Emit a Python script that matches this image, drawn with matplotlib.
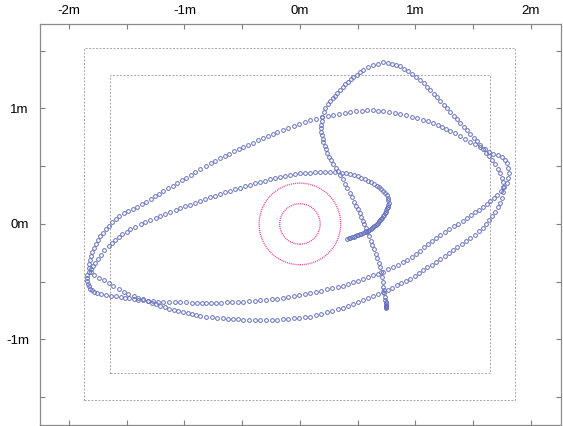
import matplotlib
matplotlib.use("Agg")
import matplotlib.pyplot as plt
from matplotlib.patches import Circle, Rectangle
from matplotlib.ticker import MultipleLocator, FuncFormatter

# robot track (m), in driving order
hook = [
    (0.410, -0.130), (0.424, -0.125), (0.437, -0.120), (0.451, -0.115), (0.465, -0.110), (0.478, -0.105), (0.492, -0.100),
    (0.506, -0.095), (0.520, -0.089), (0.533, -0.083), (0.547, -0.077), (0.560, -0.070), (0.574, -0.064), (0.587, -0.058),
    (0.601, -0.052), (0.612, -0.043), (0.623, -0.035), (0.634, -0.026), (0.645, -0.017), (0.656, -0.009), (0.668, 0.000),
    (0.679, 0.009), (0.688, 0.021), (0.696, 0.032), (0.705, 0.044), (0.714, 0.055), (0.722, 0.067),
    (0.731, 0.078), (0.737, 0.092), (0.742, 0.107), (0.748, 0.121), (0.754, 0.135), (0.760, 0.150),
    (0.766, 0.164), (0.768, 0.185), (0.766, 0.206), (0.760, 0.226), (0.750, 0.246), (0.737, 0.265), (0.722, 0.283),
    (0.705, 0.300), (0.686, 0.316), (0.665, 0.331), (0.642, 0.346), (0.617, 0.360), (0.590, 0.374), (0.562, 0.387),
    (0.532, 0.400), (0.500, 0.412), (0.467, 0.423), (0.433, 0.432), (0.398, 0.439), (0.362, 0.444),
]
inner_arc = [
    (0.307, 0.446), (0.263, 0.447), (0.220, 0.449),
    (0.177, 0.450), (0.134, 0.447), (0.090, 0.444), (0.047, 0.440),
    (0.004, 0.437), (-0.039, 0.430), (-0.083, 0.422), (-0.126, 0.415),
    (-0.169, 0.407), (-0.212, 0.396), (-0.256, 0.385), (-0.299, 0.374),
    (-0.342, 0.363), (-0.385, 0.350), (-0.429, 0.337), (-0.472, 0.324),
    (-0.515, 0.311), (-0.558, 0.298), (-0.602, 0.286), (-0.645, 0.273),
    (-0.688, 0.260), (-0.731, 0.245), (-0.775, 0.229), (-0.818, 0.214),
    (-0.861, 0.199), (-0.904, 0.184), (-0.948, 0.168), (-0.991, 0.153),
    (-1.034, 0.138), (-1.077, 0.121), (-1.121, 0.103), (-1.164, 0.086),
    (-1.207, 0.069), (-1.250, 0.052), (-1.294, 0.034),
    (-1.337, 0.017), (-1.380, -0.003), (-1.424, -0.023),
    (-1.467, -0.043), (-1.501, -0.066), (-1.536, -0.089),
    (-1.570, -0.112), (-1.599, -0.138), (-1.628, -0.164),
    (-1.657, -0.190), (-1.692, -0.229), (-1.726, -0.268), (-1.752, -0.303),
    (-1.778, -0.337), (-1.795, -0.363), (-1.812, -0.389),
]
lower_arc_a = [
    (-1.830, -0.415), (-1.840, -0.441), (-1.847, -0.467), (-1.843, -0.493), (-1.838, -0.519), (-1.830, -0.541),
    (-1.821, -0.562), (-1.804, -0.575), (-1.786, -0.588), (-1.756, -0.597),
    (-1.726, -0.606), (-1.683, -0.615), (-1.639, -0.623), (-1.596, -0.627),
    (-1.553, -0.631), (-1.515, -0.637), (-1.478, -0.643),
    (-1.440, -0.649), (-1.400, -0.655), (-1.359, -0.660),
    (-1.319, -0.666), (-1.273, -0.669), (-1.227, -0.672),
    (-1.181, -0.675), (-1.132, -0.675), (-1.083, -0.675),
    (-1.034, -0.675), (-0.985, -0.678), (-0.936, -0.680),
    (-0.887, -0.683), (-0.849, -0.683), (-0.812, -0.683),
    (-0.774, -0.683), (-0.727, -0.682), (-0.679, -0.680), (-0.632, -0.679), (-0.584, -0.678), (-0.537, -0.676),
    (-0.489, -0.675), (-0.440, -0.671), (-0.391, -0.666), (-0.342, -0.662), (-0.293, -0.658), (-0.244, -0.653),
    (-0.195, -0.649), (-0.147, -0.640), (-0.100, -0.632), (-0.052, -0.623), (-0.004, -0.614), (0.043, -0.606),
    (0.091, -0.597), (0.139, -0.587), (0.186, -0.577), (0.234, -0.567), (0.281, -0.556), (0.329, -0.546),
    (0.376, -0.536), (0.419, -0.521), (0.463, -0.506), (0.506, -0.491), (0.549, -0.476), (0.592, -0.460),
    (0.636, -0.445), (0.679, -0.430),
    (0.722, -0.415), (0.764, -0.394), (0.805, -0.373), (0.847, -0.353), (0.888, -0.332),
    (0.930, -0.311), (0.966, -0.284), (1.001, -0.257), (1.037, -0.230), (1.072, -0.203), (1.108, -0.176),
    (1.144, -0.149), (1.179, -0.122),
    (1.215, -0.095), (1.254, -0.071), (1.293, -0.046), (1.332, -0.022), (1.371, 0.003), (1.410, 0.027),
    (1.449, 0.052), (1.484, 0.076), (1.518, 0.100), (1.553, 0.123),
    (1.587, 0.147), (1.617, 0.173), (1.648, 0.199), (1.678, 0.225),
    (1.708, 0.251), (1.737, 0.286), (1.766, 0.320),
    (1.795, 0.355), (1.804, 0.398), (1.812, 0.441), (1.804, 0.484),
    (1.795, 0.528), (1.776, 0.556),
]
outer_arc = [
    (1.752, 0.580), (1.713, 0.593),
    (1.674, 0.606), (1.636, 0.626), (1.599, 0.646),
    (1.561, 0.666), (1.518, 0.688), (1.475, 0.709), (1.432, 0.735),
    (1.388, 0.761), (1.345, 0.783),
    (1.302, 0.804), (1.265, 0.822), (1.229, 0.839), (1.192, 0.857),
    (1.155, 0.874), (1.109, 0.888), (1.062, 0.903),
    (1.016, 0.917), (0.967, 0.929), (0.918, 0.940),
    (0.869, 0.952), (0.820, 0.961), (0.771, 0.969),
    (0.722, 0.978), (0.676, 0.981), (0.630, 0.983),
    (0.584, 0.986), (0.535, 0.980), (0.486, 0.975),
    (0.437, 0.969), (0.388, 0.960), (0.339, 0.952),
    (0.290, 0.943), (0.240, 0.932), (0.191, 0.922), (0.141, 0.911),
    (0.091, 0.900), (0.043, 0.883), (-0.004, 0.865), (-0.052, 0.848), (-0.100, 0.831), (-0.147, 0.813),
    (-0.195, 0.796), (-0.237, 0.777), (-0.279, 0.759), (-0.321, 0.740), (-0.363, 0.722), (-0.405, 0.703),
    (-0.447, 0.685),
    (-0.489, 0.666), (-0.530, 0.646), (-0.570, 0.627), (-0.611, 0.607), (-0.652, 0.587), (-0.693, 0.567),
    (-0.733, 0.548),
    (-0.774, 0.528), (-0.817, 0.502), (-0.861, 0.476), (-0.904, 0.450),
    (-0.947, 0.424), (-0.985, 0.401), (-1.022, 0.378),
    (-1.060, 0.355), (-1.100, 0.332), (-1.141, 0.308),
    (-1.181, 0.285), (-1.218, 0.262), (-1.256, 0.239),
    (-1.293, 0.216), (-1.331, 0.193), (-1.368, 0.170),
    (-1.406, 0.147), (-1.446, 0.130), (-1.487, 0.112),
    (-1.527, 0.095), (-1.562, 0.069), (-1.596, 0.043), (-1.627, 0.013), (-1.657, -0.017), (-1.683, -0.048),
    (-1.708, -0.078), (-1.730, -0.108), (-1.752, -0.138), (-1.769, -0.173), (-1.786, -0.208), (-1.799, -0.243),
    (-1.812, -0.277), (-1.821, -0.312), (-1.830, -0.346),
]
lower_arc_b = [
    (-1.830, -0.381), (-1.812, -0.415), (-1.786, -0.441), (-1.743, -0.467), (-1.700, -0.488),
    (-1.657, -0.510), (-1.614, -0.536), (-1.570, -0.562),
    (-1.527, -0.588), (-1.484, -0.606),
    (-1.440, -0.623), (-1.400, -0.637), (-1.359, -0.652),
    (-1.319, -0.666), (-1.282, -0.680), (-1.244, -0.695),
    (-1.207, -0.709), (-1.169, -0.721), (-1.132, -0.732),
    (-1.094, -0.744), (-1.054, -0.753), (-1.013, -0.761),
    (-0.973, -0.770), (-0.936, -0.779), (-0.898, -0.787),
    (-0.861, -0.796), (-0.812, -0.802), (-0.763, -0.807),
    (-0.714, -0.813), (-0.669, -0.816), (-0.624, -0.820), (-0.579, -0.823), (-0.534, -0.827),
    (-0.489, -0.830), (-0.440, -0.831), (-0.391, -0.832), (-0.342, -0.832), (-0.293, -0.832), (-0.244, -0.831),
    (-0.195, -0.830), (-0.147, -0.826), (-0.100, -0.821), (-0.052, -0.817), (-0.004, -0.813), (0.043, -0.808),
    (0.091, -0.804), (0.139, -0.791), (0.186, -0.778), (0.234, -0.766), (0.281, -0.753), (0.329, -0.740),
    (0.376, -0.727), (0.419, -0.710), (0.463, -0.692), (0.506, -0.675), (0.549, -0.658), (0.592, -0.640),
    (0.636, -0.623), (0.679, -0.605),
    (0.722, -0.588), (0.761, -0.569), (0.800, -0.551), (0.839, -0.532), (0.878, -0.513), (0.917, -0.495),
    (0.956, -0.476), (0.993, -0.451), (1.030, -0.427), (1.067, -0.402), (1.104, -0.377), (1.141, -0.352),
    (1.178, -0.328),
    (1.215, -0.303), (1.252, -0.277), (1.289, -0.251), (1.326, -0.225), (1.364, -0.199), (1.401, -0.173),
    (1.438, -0.147),
    (1.475, -0.121), (1.512, -0.092), (1.550, -0.064),
    (1.587, -0.035), (1.613, 0.000), (1.639, 0.035), (1.665, 0.069),
    (1.691, 0.104), (1.711, 0.144), (1.732, 0.185),
    (1.752, 0.225), (1.758, 0.272),
    (1.761, 0.320), (1.755, 0.360), (1.746, 0.400),
    (1.735, 0.441), (1.712, 0.479), (1.688, 0.516),
    (1.665, 0.554), (1.639, 0.586), (1.613, 0.618), (1.587, 0.651),
]
top_loop = [
    (1.561, 0.683), (1.532, 0.715), (1.503, 0.747), (1.475, 0.779), (1.446, 0.810), (1.417, 0.842),
    (1.388, 0.874), (1.359, 0.906), (1.330, 0.937), (1.302, 0.969), (1.273, 1.001), (1.244, 1.032),
    (1.215, 1.064), (1.186, 1.094), (1.157, 1.124), (1.129, 1.155), (1.100, 1.185), (1.071, 1.216),
    (1.042, 1.246), (1.007, 1.270), (0.973, 1.294), (0.938, 1.319), (0.904, 1.343),
    (0.869, 1.367), (0.832, 1.375), (0.796, 1.382), (0.759, 1.390),
    (0.722, 1.397), (0.679, 1.388), (0.636, 1.375), (0.593, 1.355),
    (0.549, 1.332), (0.520, 1.312), (0.492, 1.292),
    (0.463, 1.272), (0.440, 1.252), (0.417, 1.231),
    (0.394, 1.211), (0.371, 1.185), (0.347, 1.159),
    (0.324, 1.133), (0.304, 1.110), (0.284, 1.087),
    (0.264, 1.064), (0.242, 1.034), (0.221, 1.003), (0.208, 0.965),
    (0.195, 0.926), (0.190, 0.891), (0.186, 0.856), (0.186, 0.826),
    (0.186, 0.796), (0.192, 0.767), (0.197, 0.738),
    (0.203, 0.709), (0.215, 0.677), (0.226, 0.646),
    (0.238, 0.614), (0.255, 0.582), (0.273, 0.551),
    (0.290, 0.519), (0.310, 0.487), (0.330, 0.456),
]
descent = [
    (0.350, 0.424), (0.370, 0.386), (0.391, 0.349),
    (0.411, 0.311), (0.431, 0.271), (0.452, 0.230),
    (0.472, 0.190), (0.487, 0.158), (0.502, 0.126), (0.517, 0.093),
    (0.532, 0.061), (0.545, 0.029), (0.558, -0.004), (0.571, -0.036),
    (0.584, -0.069), (0.598, -0.107), (0.613, -0.144),
    (0.627, -0.182), (0.641, -0.219), (0.656, -0.257),
    (0.670, -0.294), (0.682, -0.334), (0.693, -0.375),
    (0.705, -0.415), (0.711, -0.458), (0.716, -0.502),
    (0.722, -0.545), (0.727, -0.573), (0.731, -0.601), (0.736, -0.629),
    (0.740, -0.657), (0.742, -0.672), (0.744, -0.686), (0.745, -0.698), (0.746, -0.708),
    (0.747, -0.716), (0.748, -0.722), (0.748, -0.727),
]

# target rings around the origin and the two field boundaries (m)
ring_radii = [0.175, 0.353]
outer_box = (1.865, 1.52)   # half width, half height
inner_box = (1.645, 1.29)

track = hook + inner_arc + lower_arc_a + outer_arc + lower_arc_b + top_loop + descent
xs = [p[0] for p in track]
ys = [p[1] for p in track]

plt.rcParams['font.family'] = ['Liberation Sans', 'DejaVu Sans']

fig = plt.figure(figsize=(5.63, 4.26), dpi=100)
ax = fig.add_axes([40 / 563, 1 / 426, 521 / 563, 401 / 426])
ax.set_xlim(-2.25, 2.26)
ax.set_ylim(-1.74, 1.73)

for hw, hh in [outer_box, inner_box]:
    ax.add_patch(Rectangle((-hw, -hh), 2 * hw, 2 * hh, fill=False,
                           ec="#a6a6a6", lw=0.7, ls=(0, (2.0, 1.6))))

for r in ring_radii:
    ax.add_patch(Circle((0, 0), r, fill=False, ec="#e63c90", lw=1.0, ls=(0, (0.7, 0.7))))

ax.plot(xs, ys, "o", ms=2.7, mfc="none", mec="#6570bb", mew=0.7)

fmt = FuncFormatter(lambda v, pos: f"{v:.0f}m" if abs(v - round(v)) < 1e-6 else "")
for axis in (ax.xaxis, ax.yaxis):
    axis.set_major_locator(MultipleLocator(1))
    axis.set_minor_locator(MultipleLocator(0.5))
    axis.set_major_formatter(fmt)

ax.tick_params(which="both", direction="in", length=3.5, width=0.8, color="#7f7f7f",
               top=True, bottom=True, left=True, right=True,
               labeltop=True, labelbottom=False, labelsize=9.5)
ax.tick_params(axis="x", pad=5)
ax.tick_params(axis="y", pad=8)
for s in ax.spines.values():
    s.set_color("#8a8a8a")
    s.set_linewidth(0.9)

fig.savefig("out.png", dpi=100)
